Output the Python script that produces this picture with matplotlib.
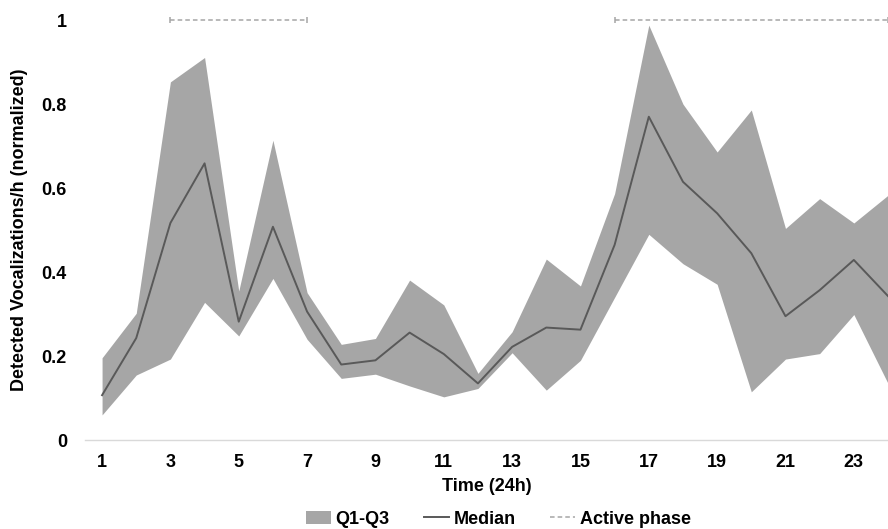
import numpy as np
import matplotlib.pyplot as plt
from matplotlib.lines import Line2D
from matplotlib.patches import Patch

plt.rcParams['font.family'] = ['Liberation Sans', 'DejaVu Sans']
plt.rcParams['font.weight'] = 'bold'

hours = np.arange(1, 25)
median = [0.107, 0.243, 0.517, 0.659, 0.282, 0.508, 0.306, 0.180, 0.190, 0.256,
          0.205, 0.135, 0.222, 0.268, 0.263, 0.465, 0.770, 0.615, 0.540, 0.445,
          0.295, 0.357, 0.429, 0.343]
q3 = [0.196, 0.302, 0.853, 0.911, 0.355, 0.714, 0.351, 0.228, 0.242, 0.381,
      0.322, 0.159, 0.258, 0.431, 0.367, 0.587, 0.988, 0.800, 0.686, 0.786,
      0.504, 0.575, 0.517, 0.583]
q1 = [0.060, 0.155, 0.193, 0.328, 0.248, 0.385, 0.240, 0.147, 0.157, 0.129,
      0.103, 0.123, 0.208, 0.119, 0.190, 0.340, 0.490, 0.420, 0.371, 0.115,
      0.193, 0.206, 0.299, 0.135]
active_phases = [(3, 7), (16, 24)]
xtick_hours = list(range(1, 24, 2))
yticks = [0, 0.2, 0.4, 0.6, 0.8, 1]
ytick_labels = ['0', '0.2', '0.4', '0.6', '0.8', '1']

fs = 13

fig = plt.figure(figsize=(8.88, 5.29), dpi=100)
ax = fig.add_axes([0.0957, 0.168, 0.9043, 0.794])

ax.fill_between(hours, q1, q3, color='#a6a6a6', linewidth=0)
ax.plot(hours, median, color='#595959', linewidth=1.4)

for start, end in active_phases:
    ax.plot([start, end], [1, 1], color='#a6a6a6', linestyle=(0, (3, 2)),
            linewidth=1.1, clip_on=False)
    ax.plot([start, end], [1, 1], color='#a6a6a6', linestyle='none',
            marker='|', markersize=5, markeredgewidth=1.1, clip_on=False)

ax.set_xlim(0.5, 24)
ax.set_ylim(0, 1)
ax.set_xticks(xtick_hours)
ax.set_yticks(yticks)
ax.set_yticklabels(ytick_labels)
ax.tick_params(length=0, labelsize=fs, colors='black')
ax.tick_params(axis='x', pad=10)
ax.tick_params(axis='y', pad=13)
for side in ['top', 'right', 'left']:
    ax.spines[side].set_visible(False)
ax.spines['bottom'].set_color('#d9d9d9')
ax.spines['bottom'].set_linewidth(1.0)

ax.set_xlabel('Time (24h)', fontsize=fs, fontweight='bold', labelpad=5)
ax.set_ylabel('Detected Vocalizations/h (normalized)', fontsize=fs,
              fontweight='bold')
ax.yaxis.set_label_coords(-0.071, 0.5)

handles = [Patch(facecolor='#a6a6a6', edgecolor='none'),
           Line2D([], [], color='#595959', linewidth=1.4),
           Line2D([], [], color='#a6a6a6', linewidth=1.1, linestyle=(0, (3, 2)))]
labels = ['Q1-Q3', 'Median', 'Active phase']
fig.legend(handles, labels, loc='lower center', bbox_to_anchor=(0.561, -0.028),
           ncol=3, frameon=False, fontsize=fs, handlelength=1.4,
           handletextpad=0.25, columnspacing=1.9)

fig.savefig('out.png', dpi=100)
